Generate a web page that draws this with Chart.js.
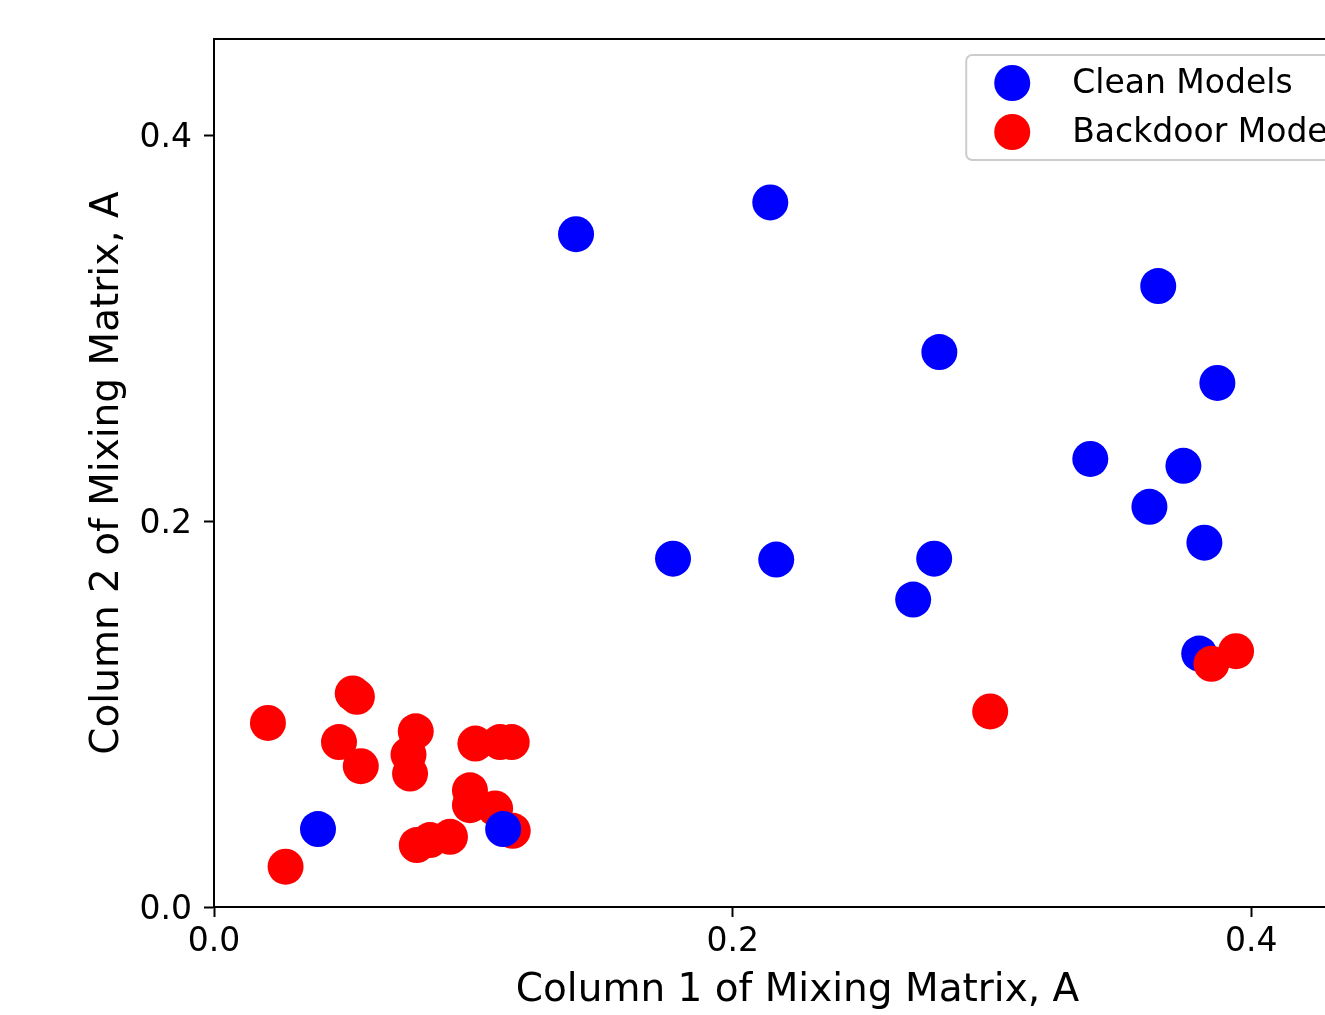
<!DOCTYPE html>
<html>
<head>
<meta charset="utf-8">
<script src="https://cdn.jsdelivr.net/npm/chart.js@4.4.0/dist/chart.umd.min.js"></script>
<style>
  html, body { margin: 0; padding: 0; background: #fff; overflow: hidden; }
  #wrap { width: 1400px; height: 1015px; }
</style>
</head>
<body>
<div id="wrap"><canvas id="mixChart" width="1400" height="1015"></canvas></div>
<script>
// Column 1 / column 2 of the mixing matrix for each model
const cleanX = [0.1396, 0.2145, 0.3641, 0.2797, 0.3869, 0.3379, 0.3738, 0.3607, 0.3819, 0.1770, 0.2168, 0.2777, 0.2696, 0.3799, 0.0401];
const cleanY = [0.3488, 0.3653, 0.3219, 0.2877, 0.2717, 0.2323, 0.2287, 0.2075, 0.1889, 0.1806, 0.1801, 0.1806, 0.1594, 0.1314, 0.0404];
// clean model that was plotted after the backdoor ones (sits on top)
const cleanLateX = [0.1115];
const cleanLateY = [0.0404];
const backdoorX = [0.0208, 0.0535, 0.0551, 0.0482, 0.0566, 0.0778, 0.0750, 0.0756, 0.1008, 0.1103, 0.1148, 0.0987, 0.0987, 0.1084, 0.1152, 0.0910, 0.0833, 0.0782, 0.0276, 0.3941, 0.3846, 0.2993];
const backdoorY = [0.0954, 0.1107, 0.1090, 0.0855, 0.0730, 0.0911, 0.0790, 0.0692, 0.0847, 0.0855, 0.0855, 0.0605, 0.0528, 0.0511, 0.0395, 0.0364, 0.0347, 0.0321, 0.0209, 0.1326, 0.1261, 0.1014];
const xTicks = [0.0, 0.2, 0.4];
const yTicks = [0.0, 0.2, 0.4];

const FONT = 'DejaVu Sans';
const toPoints = (xs, ys) => xs.map((x, i) => ({ x: x, y: ys[i] }));

// axes frame (top/right spines too)
const framePlugin = {
  id: 'frame',
  afterDatasetsDraw(chart) {
    const { ctx, chartArea: a } = chart;
    ctx.save();
    ctx.strokeStyle = '#000';
    ctx.lineWidth = 2;
    ctx.strokeRect(a.left, a.top, a.right - a.left, a.bottom - a.top);
    ctx.restore();
  }
};

// matplotlib-like legend in the upper right corner
const boxLegend = {
  id: 'boxLegend',
  afterDraw(chart) {
    const { ctx, chartArea: a } = chart;
    const items = chart.data.datasets.filter(d => d.legendRank !== undefined)
      .sort((p, q) => p.legendRank - q.legendRank);
    ctx.save();
    ctx.font = '33px "' + FONT + '"';
    const textW = Math.max(...items.map(d => ctx.measureText(d.label).width));
    const w = 106 + textW + 12;
    const h = 105;
    const left = a.right - 15 - w;
    const top = a.top + 16;
    ctx.beginPath();
    ctx.roundRect(left, top, w, h, 6);
    ctx.fillStyle = 'rgba(255,255,255,0.8)';
    ctx.fill();
    ctx.strokeStyle = '#cccccc';
    ctx.lineWidth = 2;
    ctx.stroke();
    items.forEach((d, i) => {
      const cy = top + 28 + i * 49;
      ctx.beginPath();
      ctx.arc(left + 46, cy, 18, 0, Math.PI * 2);
      ctx.fillStyle = d.backgroundColor;
      ctx.fill();
      ctx.fillStyle = '#000';
      ctx.textBaseline = 'middle';
      ctx.textAlign = 'left';
      ctx.fillText(d.label, left + 106, cy + 1);
    });
    ctx.restore();
  }
};

const ctx = document.getElementById('mixChart').getContext('2d');
const mixChart = new Chart(ctx, {
  type: 'scatter',
  data: {
    datasets: [{
      label: 'Clean Models',
      data: toPoints(cleanLateX, cleanLateY),
      backgroundColor: '#0000ff',
      order: 0
    },
    {
      label: 'Backdoor Models',
      data: toPoints(backdoorX, backdoorY),
      backgroundColor: '#ff0000',
      order: 1,
      legendRank: 2
    },
    {
      label: 'Clean Models',
      data: toPoints(cleanX, cleanY),
      backgroundColor: '#0000ff',
      order: 2,
      legendRank: 1
    }]
  },
  options: {
    responsive: false,
    animation: false,
    events: [],
    elements: {
      point: { radius: 18, hoverRadius: 18, borderWidth: 0 }
    },
    layout: { padding: { top: 39, right: 19, left: 0, bottom: 0 } },
    plugins: {
      legend: { display: false },
      tooltip: { enabled: false }
    },
    scales: {
      x: {
        type: 'linear',
        min: 0,
        max: 0.45,
        afterBuildTicks: s => { s.ticks = xTicks.map(v => ({ value: v })); },
        afterFit: s => { s.height = 108; },
        ticks: {
          color: '#000',
          font: { family: FONT, size: 33 },
          padding: 6,
          maxRotation: 0,
          autoSkip: false,
          callback: v => v.toFixed(1)
        },
        grid: { display: true, drawOnChartArea: false, drawTicks: true, tickLength: 10, tickColor: '#000', tickWidth: 2 },
        border: { display: true, color: '#000', width: 2 },
        title: {
          display: true,
          text: 'Column 1 of Mixing Matrix, A',
          color: '#000',
          font: { family: FONT, size: 39 },
          padding: { top: 0, bottom: 1 }
        }
      },
      y: {
        type: 'linear',
        min: 0,
        max: 0.45,
        afterBuildTicks: s => { s.ticks = yTicks.map(v => ({ value: v })); },
        afterFit: s => { s.width = 214; },
        ticks: {
          color: '#000',
          font: { family: FONT, size: 33 },
          padding: 12,
          labelOffset: 3,
          autoSkip: false,
          callback: v => v.toFixed(1)
        },
        grid: { display: true, drawOnChartArea: false, drawTicks: true, tickLength: 10, tickColor: '#000', tickWidth: 2 },
        border: { display: true, color: '#000', width: 2 },
        title: {
          display: true,
          text: 'Column 2 of Mixing Matrix, A',
          color: '#000',
          font: { family: FONT, size: 39 },
          padding: { top: 84, bottom: 0 }
        }
      }
    }
  },
  plugins: [framePlugin, boxLegend]
});
</script>
</body>
</html>
